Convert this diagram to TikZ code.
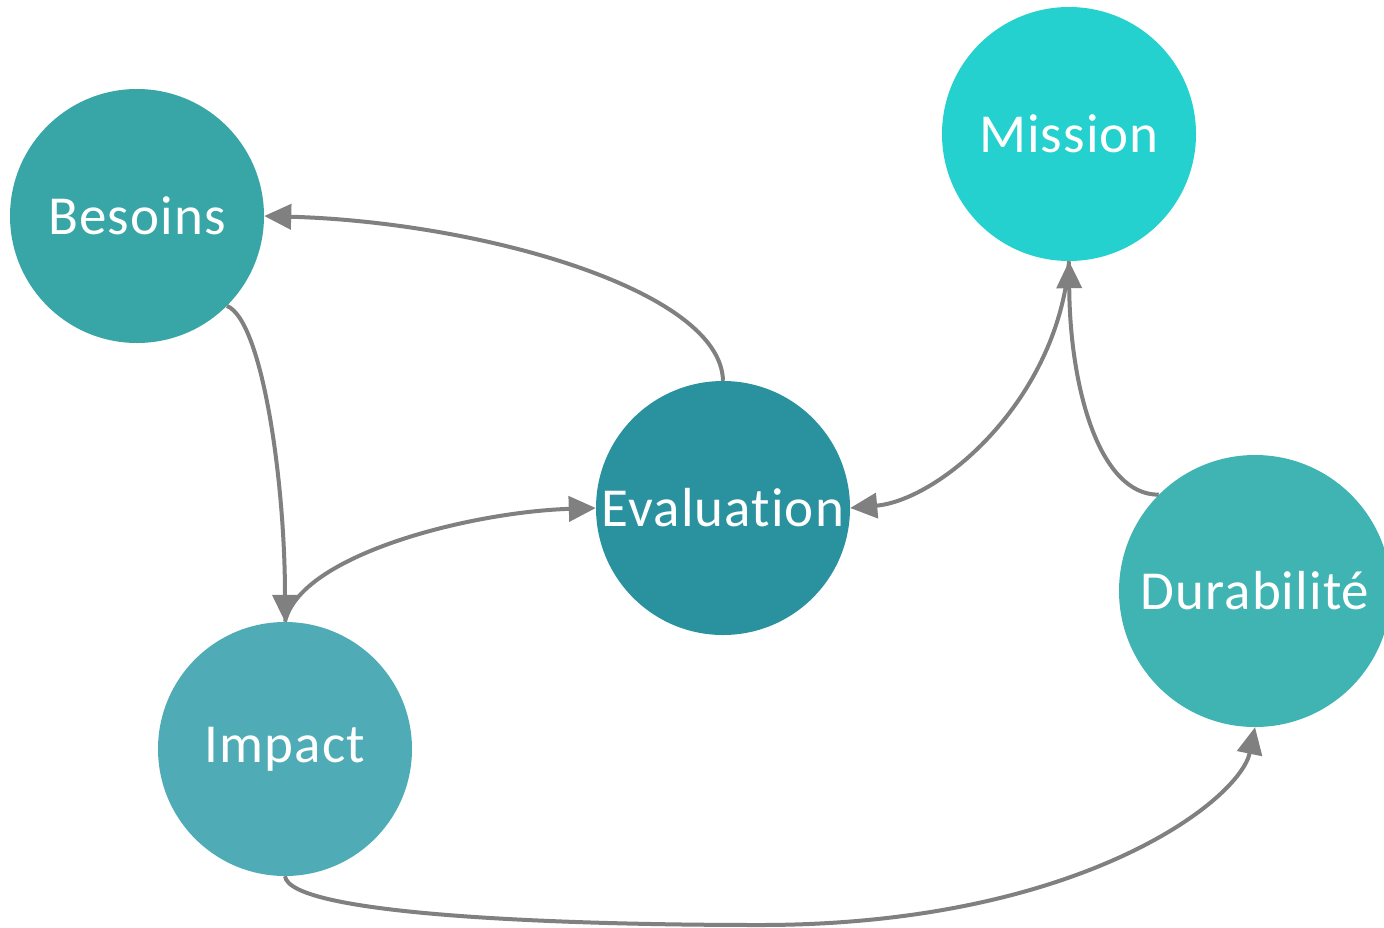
\documentclass[tikz,border=0pt]{standalone}
\usepackage{fontspec}
\setmainfont{Carlito}[Ligatures=NoCommon, LetterSpace=2]
\usetikzlibrary{arrows.meta}
\definecolor{cBes}{RGB}{56,166,166}
\definecolor{cMis}{RGB}{36,209,207}
\definecolor{cEva}{RGB}{42,146,158}
\definecolor{cImp}{RGB}{79,172,183}
\definecolor{cDur}{RGB}{64,179,179}
\definecolor{cEdge}{RGB}{128,128,128}
\tikzset{
  bubble/.style={circle, inner sep=0pt, minimum size=254pt, text=white, font=\fontsize{55}{60}\selectfont},
  conn/.style={draw=cEdge, line width=4pt, -{Triangle[length=27pt,width=25pt]}}
}
\begin{document}
\begin{tikzpicture}[x=1pt,y=-1pt]
\useasboundingbox (0,0) rectangle (1384,927);
\node[bubble, fill=cBes] (bes) at (137,216) {Besoins};
\node[bubble, fill=cMis] (mis) at (1069,134) {Mission};
\node[bubble, fill=cEva] (eva) at (723,508) {Evaluation};
\node[bubble, fill=cImp] (imp) at (285,749) {Impact};
\node[bubble, fill=cDur, minimum size=272pt] (dur) at (1255,591) {Durabilité};
% Evaluation -> Besoins
\draw[conn] (eva.north) .. controls (721,290) and (480,222) .. (bes.east);
% Besoins -> Impact
\draw[conn] (bes.-45) .. controls (262,320) and (285,480) .. (imp.north);
% Impact -> Evaluation
\draw[conn] (imp.north) .. controls (300,555) and (470,512) .. (eva.west);
% Mission -> Evaluation
\draw[conn] (mis.south) .. controls (1058,400) and (940,500) .. (eva.east);
% Durabilite -> Mission
\draw[conn] (dur.135) .. controls (1100,495) and (1070,390) .. (mis.south);
% Impact -> Durabilite
\draw[conn] (imp.south) .. controls (290,915) and (560,925) .. (760,925) .. controls (1080,925) and (1240,800) .. (dur.south);
\end{tikzpicture}
\end{document}
